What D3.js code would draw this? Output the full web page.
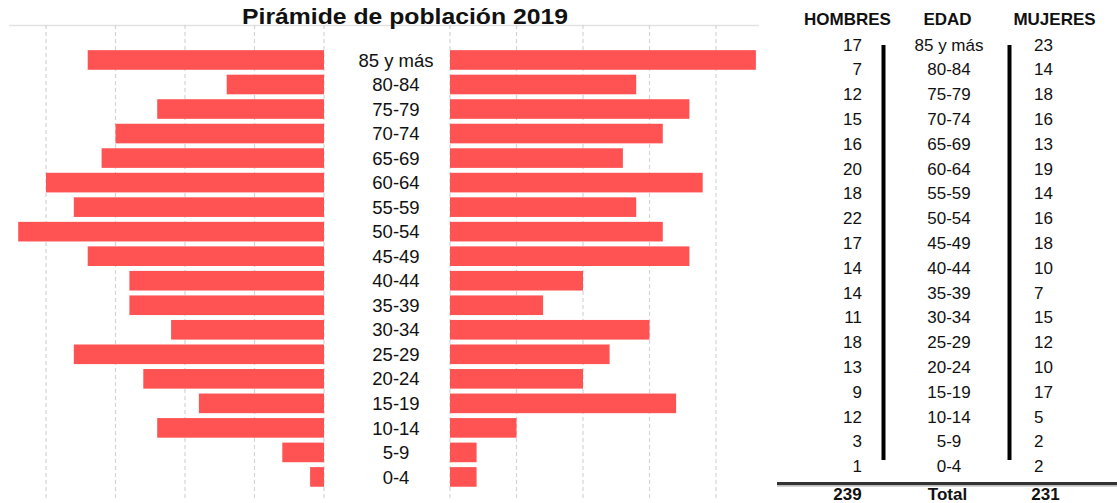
<!DOCTYPE html>
<html>
<head>
<meta charset="utf-8">
<script src="https://cdn.jsdelivr.net/npm/d3@7"></script>
<style>
  body { margin: 0; background: #fff; }
  #chart { width: 1117px; height: 503px; }
  text { font-family: "Liberation Sans", Arial, sans-serif; fill: #111; }
  .grid line { stroke: #d4d4d4; stroke-width: 1.2; stroke-dasharray: 4,3; }
  .head { font-weight: bold; font-size: 17px; }
  .cell { font-size: 17px; }
</style>
</head>
<body>
<div id="chart"></div>
<script>
var ages = ["85 y más", "80-84", "75-79", "70-74", "65-69", "60-64", "55-59", "50-54", "45-49",
            "40-44", "35-39", "30-34", "25-29", "20-24", "15-19", "10-14", "5-9", "0-4"];
var hombres = [17, 7, 12, 15, 16, 20, 18, 22, 17, 14, 14, 11, 18, 13, 9, 12, 3, 1];
var mujeres = [23, 14, 18, 16, 13, 19, 14, 16, 18, 10, 7, 15, 12, 10, 17, 5, 2, 2];
var ticks = [0, 5, 10, 15, 20];
var titulo = "Pirámide de población 2019";
var cabeceras = ["HOMBRES", "EDAD", "MUJERES"];

var chart = document.getElementById("chart"),
    width = 1117,
    height = 503,
    gridTop = 25,
    gridBottom = 499,
    barColor = "#ff5353",
    svg;

svg = d3.select(chart)
  .append("svg")
  .attr("width", width)
  .attr("height", height);

// scales: men grow to the left, women to the right
var xL = d3.scaleLinear().domain([0, 20]).range([324, 46]),
    xR = d3.scaleLinear().domain([0, 20]).range([450, 716]),
    y = d3.scaleBand().domain(ages).range([47.7, 489.2]).paddingInner(0.2).paddingOuter(0.1);

// top frame line
svg.append("line")
  .attr("x1", 9).attr("x2", 759)
  .attr("y1", gridTop + 0.5).attr("y2", gridTop + 0.5)
  .attr("stroke", "#e2e2e2").attr("stroke-width", 1.5);

var grid = svg.append("g").attr("class", "grid");
grid.selectAll("line.l")
  .data(ticks)
  .enter().append("line").attr("class", "l")
  .attr("x1", function(d){ return xL(d); }).attr("x2", function(d){ return xL(d); })
  .attr("y1", gridTop).attr("y2", gridBottom);
grid.selectAll("line.r")
  .data(ticks)
  .enter().append("line").attr("class", "r")
  .attr("x1", function(d){ return xR(d); }).attr("x2", function(d){ return xR(d); })
  .attr("y1", gridTop).attr("y2", gridBottom);

svg.append("g").selectAll("rect")
  .data(hombres)
  .enter().append("rect")
  .attr("fill", barColor)
  .attr("x", function(d){ return xL(d); })
  .attr("y", function(d, i){ return y(ages[i]); })
  .attr("width", function(d){ return xL(0) - xL(d); })
  .attr("height", y.bandwidth());

svg.append("g").selectAll("rect")
  .data(mujeres)
  .enter().append("rect")
  .attr("fill", barColor)
  .attr("x", xR(0))
  .attr("y", function(d, i){ return y(ages[i]); })
  .attr("width", function(d){ return xR(d) - xR(0); })
  .attr("height", y.bandwidth());

svg.append("g").selectAll("text")
  .data(ages)
  .enter().append("text")
  .attr("x", 396)
  .attr("y", function(d){ return y(d) + y.bandwidth() / 2; })
  .attr("dy", ".36em")
  .attr("text-anchor", "middle")
  .style("font-size", "18.5px")
  .text(function(d){ return d; });

svg.append("text")
  .attr("x", 405)
  .attr("y", 24)
  .attr("text-anchor", "middle")
  .attr("textLength", 326)
  .attr("lengthAdjust", "spacingAndGlyphs")
  .style("font-size", "22px")
  .style("font-weight", "bold")
  .text(titulo);

// ---- table on the right ----
var colX = [847.5, 947.5, 1054.5],
    ty = d3.scalePoint().domain(ages).range([44.5, 466]);

svg.append("g").selectAll("text")
  .data(cabeceras)
  .enter().append("text")
  .attr("class", "head")
  .attr("x", function(d, i){ return colX[i]; })
  .attr("y", 25)
  .attr("text-anchor", "middle")
  .text(function(d){ return d; });

svg.append("g").selectAll("text")
  .data(hombres)
  .enter().append("text")
  .attr("class", "cell")
  .attr("x", 862)
  .attr("y", function(d, i){ return ty(ages[i]); })
  .attr("dy", ".36em")
  .attr("text-anchor", "end")
  .text(function(d){ return d; });

svg.append("g").selectAll("text")
  .data(ages)
  .enter().append("text")
  .attr("class", "cell")
  .attr("x", 949)
  .attr("y", function(d){ return ty(d); })
  .attr("dy", ".36em")
  .attr("text-anchor", "middle")
  .text(function(d){ return d; });

svg.append("g").selectAll("text")
  .data(mujeres)
  .enter().append("text")
  .attr("class", "cell")
  .attr("x", 1034)
  .attr("y", function(d, i){ return ty(ages[i]); })
  .attr("dy", ".36em")
  .text(function(d){ return d; });

// thick separators
[883.5, 1009.5].forEach(function(x){
  svg.append("line")
    .attr("x1", x).attr("x2", x)
    .attr("y1", 45).attr("y2", 460)
    .attr("stroke", "#000").attr("stroke-width", 4);
});

svg.append("line")
  .attr("x1", 777).attr("x2", width)
  .attr("y1", 483.5).attr("y2", 483.5)
  .attr("stroke", "#333").attr("stroke-width", 3);
svg.append("line")
  .attr("x1", 777).attr("x2", width)
  .attr("y1", 485.8).attr("y2", 485.8)
  .attr("stroke", "#aaa").attr("stroke-width", 1.2);

var totales = [d3.sum(hombres), "Total", d3.sum(mujeres)],
    totX = [847.5, 947.5, 1045.5];
svg.append("g").selectAll("text")
  .data(totales)
  .enter().append("text")
  .attr("class", "head")
  .attr("x", function(d, i){ return totX[i]; })
  .attr("y", 500)
  .attr("text-anchor", "middle")
  .text(function(d){ return d; });
</script>
</body>
</html>
